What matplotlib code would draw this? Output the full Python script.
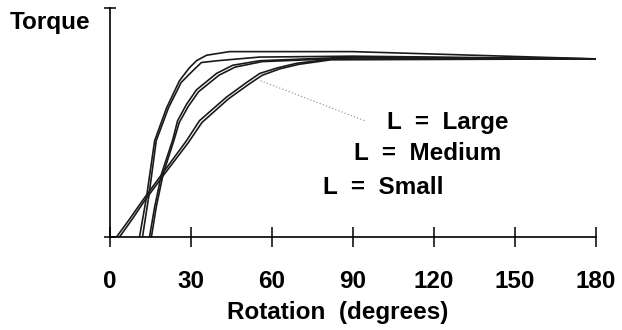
import matplotlib.pyplot as plt

plt.rcParams['font.family'] = ['Liberation Sans', 'DejaVu Sans']
plt.rcParams['font.weight'] = 'bold'
plt.rcParams['axes.labelweight'] = 'bold'

##### Data (rotation in degrees, torque in % of plateau) #####
# steepest pair
rot_a1 = [11.1, 13.7, 16.7, 21.1, 25.9, 29.5, 32.2, 35.9, 44.4, 90, 180]
trq_a1 = [0, 22, 53, 71, 86, 93, 97, 100, 102, 102, 98]
rot_a2 = [12.2, 14.5, 17.3, 21.8, 26.5, 30.5, 34.0, 40.0, 55.5, 90, 180]
trq_a2 = [0, 22, 53, 71, 85, 91, 96, 97, 99, 99.5, 98]

# middle pair
rot_b1 = [14.8, 16.7, 19.3, 23.3, 25.2, 28.5, 32.2, 39.6, 45.6, 55.6, 90, 180]
trq_b1 = [0, 16.5, 35, 53, 64, 73, 81, 90, 94.5, 97, 99, 98]
rot_b2 = [15.5, 17.3, 19.9, 23.8, 25.8, 29.2, 33.0, 40.5, 46.5, 56.5, 90, 180]
trq_b2 = [0, 16.5, 35, 53, 63, 72, 80, 89, 93.5, 96.5, 98.5, 98]

# gradual pair
rot_c1 = [2.6, 7.5, 12.2, 19.6, 28.5, 33.3, 43.3, 50.7, 55.6, 62.0, 69.3, 81.5, 180]
trq_c1 = [0, 10, 20, 35, 53, 64, 77, 85, 90, 93, 95.6, 97.8, 98]
rot_c2 = [3.7, 8.5, 13.0, 20.5, 29.2, 34.2, 44.0, 51.5, 56.5, 63.0, 70.0, 82.0, 180]
trq_c2 = [0, 10, 20, 35, 52, 63, 76, 84, 89, 92.5, 95, 97.5, 98]

# dotted leader from the "L = Large" label
leader_rot = [55.9, 94.4]
leader_trq = [86, 64]

labels = ['L  =  Large', 'L  =  Medium', 'L  =  Small']
label_rot = [102.6, 90.4, 78.9]
label_trq = [63, 46, 27.5]

xticks = [0, 30, 60, 90, 120, 150, 180]
xtick_labels = ['0', '30', '60', '90', '120', '150', '180']

# Create figure
fig = plt.figure(figsize=(6.22, 3.30), dpi=100)
ax = fig.add_axes([109.5 / 622, 1 - 237 / 330, (596 - 109.5) / 622, (237 - 8) / 330])

line_kw = dict(color='#1a1a1a', linewidth=1.2, solid_capstyle='round')
for r, t in [(rot_a1, trq_a1), (rot_a2, trq_a2), (rot_b1, trq_b1),
             (rot_b2, trq_b2), (rot_c1, trq_c1), (rot_c2, trq_c2)]:
    ax.plot(r, t, **line_kw)

ax.plot(leader_rot, leader_trq, color='#888888', linewidth=0.8, linestyle=(0, (1, 2)))

for lab, r, t in zip(labels, label_rot, label_trq):
    ax.text(r, t, lab, fontsize=17.5, ha='left', va='center', color='black')

ax.set_xlim(0, 180)
ax.set_ylim(0, 126)
ax.spines['top'].set_visible(False)
ax.spines['right'].set_visible(False)
ax.spines['left'].set_linewidth(1.2)
ax.spines['bottom'].set_linewidth(1.2)

ax.set_xticks(xticks)
ax.set_xticklabels(xtick_labels)
ax.tick_params(axis='x', direction='inout', length=14, width=1.1, labelsize=17.5, pad=17)
ax.set_yticks([0, 126])
ax.set_yticklabels(['', ''])
ax.tick_params(axis='y', direction='inout', length=8, width=1.1)

ax.set_xlabel('Rotation  (degrees)', fontsize=17.5)
ax.xaxis.set_label_coords(0.47, -0.28)
fig.text(10 / 622, 1 - 22 / 330, 'Torque', fontsize=17.5, ha='left', va='center')

plt.savefig('out.png', dpi=100)
plt.close()
